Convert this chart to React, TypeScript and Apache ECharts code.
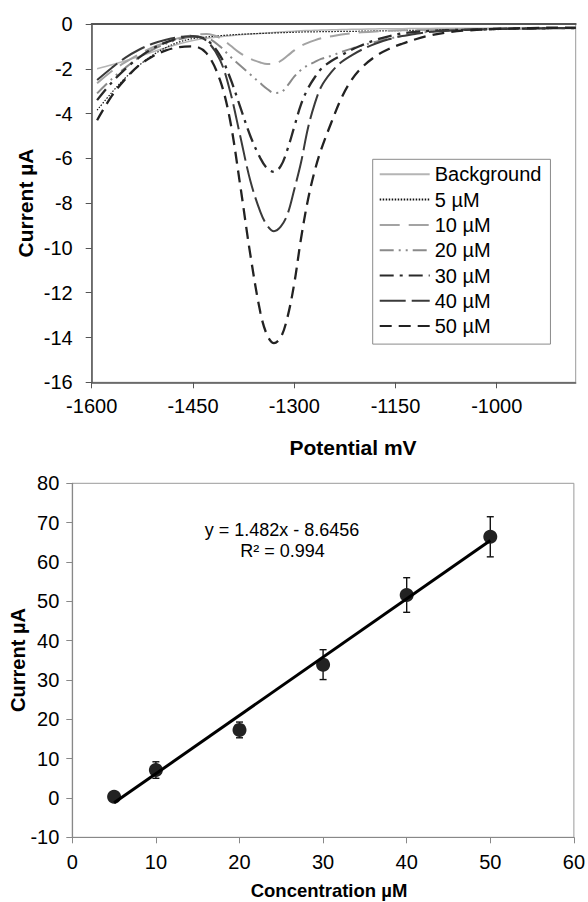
import React, { useEffect, useRef } from "react";
import * as echarts from "echarts";

// ---- Top chart: DPV voltammograms ----
const potentials = [-1592, -1570, -1550, -1530, -1510, -1490, -1470, -1450, -1430, -1410, -1395, -1380, -1365, -1350, -1340, -1330, -1320, -1310, -1300, -1290, -1280, -1270, -1260, -1245, -1230, -1215, -1200, -1180, -1160, -1140, -1120, -1100, -1075, -1050, -1000, -950, -900, -883];

const background = [-2.0, -1.82, -1.64, -1.45, -1.25, -1.06, -0.88, -0.74, -0.64, -0.57, -0.52, -0.48, -0.45, -0.42, -0.4, -0.38, -0.36, -0.34, -0.32, -0.3, -0.29, -0.28, -0.27, -0.26, -0.25, -0.24, -0.23, -0.22, -0.21, -0.21, -0.2, -0.2, -0.19, -0.19, -0.18, -0.17, -0.17, -0.17];
const c5 = [-3.85, -3.05, -2.4, -1.85, -1.4, -1.05, -0.8, -0.65, -0.58, -0.52, -0.49, -0.46, -0.44, -0.42, -0.41, -0.4, -0.39, -0.38, -0.37, -0.36, -0.35, -0.35, -0.34, -0.34, -0.33, -0.33, -0.32, -0.31, -0.3, -0.29, -0.28, -0.27, -0.26, -0.25, -0.23, -0.21, -0.2, -0.2];
const c10 = [-2.65, -2.1, -1.7, -1.35, -1.05, -0.82, -0.62, -0.5, -0.45, -0.62, -0.95, -1.3, -1.55, -1.72, -1.79, -1.78, -1.65, -1.42, -1.18, -0.98, -0.84, -0.73, -0.64, -0.55, -0.47, -0.41, -0.37, -0.33, -0.3, -0.28, -0.27, -0.26, -0.25, -0.24, -0.22, -0.2, -0.19, -0.19];
const c20 = [-3.1, -2.45, -1.95, -1.5, -1.15, -0.88, -0.68, -0.57, -0.62, -1.0, -1.45, -1.85, -2.25, -2.65, -2.9, -3.08, -3.05, -2.75, -2.35, -2.05, -1.85, -1.7, -1.56, -1.42, -1.25, -1.1, -0.97, -0.8, -0.66, -0.53, -0.42, -0.35, -0.3, -0.27, -0.23, -0.2, -0.18, -0.18];
const c30 = [-3.4, -2.6, -2.0, -1.5, -1.1, -0.82, -0.63, -0.55, -0.7, -1.4, -2.4, -3.7, -5.0, -6.0, -6.45, -6.6, -6.35, -5.6, -4.6, -3.6, -2.9, -2.4, -2.0, -1.65, -1.4, -1.15, -0.95, -0.72, -0.55, -0.42, -0.35, -0.31, -0.28, -0.26, -0.22, -0.2, -0.18, -0.18];
const c40 = [-2.5, -1.95, -1.5, -1.15, -0.88, -0.7, -0.58, -0.55, -0.75, -1.6, -3.0, -5.0, -7.0, -8.4, -9.0, -9.25, -9.05, -8.5, -7.4, -6.2, -4.7, -3.6, -2.8, -2.15, -1.7, -1.4, -1.15, -0.88, -0.68, -0.54, -0.44, -0.36, -0.3, -0.26, -0.22, -0.2, -0.18, -0.18];
const c50 = [-4.3, -3.2, -2.45, -1.85, -1.45, -1.18, -1.03, -1.0, -1.3, -2.5, -4.3, -7.2, -10.3, -12.9, -13.9, -14.25, -14.0, -13.1, -11.6, -9.6, -7.9, -6.6, -5.6, -4.4, -3.3, -2.5, -1.95, -1.45, -1.12, -0.88, -0.68, -0.52, -0.38, -0.3, -0.22, -0.18, -0.16, -0.16];

const potentialTicks = [-1600, -1450, -1300, -1150, -1000];

// ---- Bottom chart: calibration ----
const concentrations = [5, 10, 20, 30, 40, 50];
const currents = [0.3, 7.1, 17.3, 33.9, 51.6, 66.4];
const errors = [0.5, 2.1, 2.0, 3.8, 4.4, 5.1];
const trendX = [5, 50];
const trendY = [-1.24, 65.46];

const FONT = "'Liberation Sans', Arial, sans-serif";

export default function App() {
  const ref = useRef<HTMLDivElement>(null);

  useEffect(() => {
    if (!ref.current) return;
    const chart = echarts.init(ref.current, null, { renderer: "svg" });

    const curveDefs = [
      { name: "Background", data: background, color: "#b5b5b5", width: 1.5, type: "solid" as any },
      { name: "5 µM", data: c5, color: "#111", width: 1.2, type: [1.5, 1.5] },
      { name: "10 µM", data: c10, color: "#a3a3a3", width: 2, type: [20, 9] },
      { name: "20 µM", data: c20, color: "#8a8a8a", width: 2, type: [14, 5, 2, 5, 2, 5] },
      { name: "30 µM", data: c30, color: "#2a2a2a", width: 2.3, type: [14, 6, 3, 6] },
      { name: "40 µM", data: c40, color: "#3a3a3a", width: 2, type: [26, 6] },
      { name: "50 µM", data: c50, color: "#222", width: 2.3, type: [12, 7] },
    ];

    const curveSeries = curveDefs.map((d) => ({
      name: d.name,
      type: "line",
      xAxisIndex: 0,
      yAxisIndex: 0,
      data: potentials.map((p, i) => [p, d.data[i]]),
      showSymbol: false,
      symbol: "none",
      smooth: 0.35,
      color: d.color,
      lineStyle: { color: d.color, width: d.width, type: d.type },
      z: 3,
    }));

    const axisLabelStyle = { color: "#000", fontSize: 20, fontFamily: FONT };

    const option: any = {
      animation: false,
      textStyle: { fontFamily: FONT },
      grid: [
        { left: 91.7, top: 24, width: 484, height: 358.3, show: true, borderColor: "#9a9a9a", borderWidth: 1, backgroundColor: "transparent" },
        { left: 72.3, top: 483.3, width: 505.4, height: 354, show: true, borderColor: "#9a9a9a", borderWidth: 1, backgroundColor: "transparent" },
      ],
      xAxis: [
        {
          type: "value", gridIndex: 0, min: -1600, max: -883, position: "bottom",
          axisLine: { show: true, onZero: false, lineStyle: { color: "#555", width: 1.5 } },
          axisTick: { show: true, length: 6, customValues: potentialTicks, lineStyle: { color: "#555" } },
          axisLabel: { ...axisLabelStyle, margin: 14, customValues: potentialTicks, formatter: (v: number) => String(v) },
          splitLine: { show: false },
        },
        {
          type: "value", gridIndex: 0, min: -1600, max: -883, position: "top",
          axisLine: { show: true, onZero: false, lineStyle: { color: "#555", width: 2 } },
          axisTick: { show: false }, axisLabel: { show: false }, splitLine: { show: false },
        },
        {
          type: "value", gridIndex: 1, min: 0, max: 60, interval: 10, position: "bottom",
          axisLine: { show: true, onZero: false, lineStyle: { color: "#888", width: 1.2 } },
          axisTick: { show: true, length: 6, lineStyle: { color: "#888" } },
          axisLabel: { ...axisLabelStyle, margin: 15 },
          splitLine: { show: false },
        },
      ],
      yAxis: [
        {
          type: "value", gridIndex: 0, min: -16, max: 0, interval: 2,
          axisLine: { show: true, onZero: false, lineStyle: { color: "#555", width: 1.5 } },
          axisTick: { show: true, length: 6, lineStyle: { color: "#555" } },
          axisLabel: { ...axisLabelStyle, margin: 19 },
          splitLine: { show: false },
        },
        {
          type: "value", gridIndex: 1, min: -10, max: 80, interval: 10,
          axisLine: { show: true, onZero: false, lineStyle: { color: "#888", width: 1.2 } },
          axisTick: { show: true, length: 6, lineStyle: { color: "#888" } },
          axisLabel: { ...axisLabelStyle, margin: 13 },
          splitLine: { show: false },
        },
      ],
      legend: {
        data: curveDefs.map((d) => d.name),
        orient: "vertical",
        left: 372.7,
        top: 159.3,
        padding: [5, 9, 8, 6],
        itemGap: 5.3,
        itemWidth: 50,
        itemHeight: 14,
        selectedMode: false,
        backgroundColor: "#fff",
        borderColor: "#8a8a8a",
        borderWidth: 1,
        itemStyle: { opacity: 0 },
        textStyle: { color: "#000", fontSize: 20, lineHeight: 20, fontFamily: FONT },
      },
      graphic: [
        { type: "text", x: 353, y: 447, style: { text: "Potential mV", font: `bold 21px ${FONT}`, fill: "#000", textAlign: "center", textVerticalAlign: "middle" } },
        { type: "text", x: 25, y: 203, rotation: Math.PI / 2, style: { text: "Current µA", font: `bold 21px ${FONT}`, fill: "#000", textAlign: "center", textVerticalAlign: "middle" } },
        { type: "text", x: 18, y: 660, rotation: Math.PI / 2, style: { text: "Current µA", font: `bold 20px ${FONT}`, fill: "#000", textAlign: "center", textVerticalAlign: "middle" } },
        { type: "text", x: 329, y: 890, style: { text: "Concentration µM", font: `bold 18.5px ${FONT}`, fill: "#000", textAlign: "center", textVerticalAlign: "middle" } },
        { type: "text", x: 282, y: 530, style: { text: "y = 1.482x - 8.6456", font: `18px ${FONT}`, fill: "#000", textAlign: "center", textVerticalAlign: "middle" } },
        { type: "text", x: 282.5, y: 551, style: { text: "R² = 0.994", font: `18px ${FONT}`, fill: "#000", textAlign: "center", textVerticalAlign: "middle" } },
      ],
      series: [
        ...curveSeries,
        {
          name: "errors",
          type: "custom",
          xAxisIndex: 2,
          yAxisIndex: 1,
          data: concentrations.map((c, i) => [c, currents[i] - errors[i], currents[i] + errors[i]]),
          encode: { x: 0, y: [1, 2] },
          renderItem: (params: any, api: any) => {
            const x = api.value(0);
            const top = api.coord([x, api.value(2)]);
            const bot = api.coord([x, api.value(1)]);
            const w = 3.5;
            const st = { stroke: "#111", lineWidth: 1.4 };
            return {
              type: "group",
              children: [
                { type: "line", shape: { x1: top[0], y1: top[1], x2: bot[0], y2: bot[1] }, style: st },
                { type: "line", shape: { x1: top[0] - w, y1: top[1], x2: top[0] + w, y2: top[1] }, style: st },
                { type: "line", shape: { x1: bot[0] - w, y1: bot[1], x2: bot[0] + w, y2: bot[1] }, style: st },
              ],
            };
          },
          z: 2,
        },
        {
          name: "measured",
          type: "scatter",
          xAxisIndex: 2,
          yAxisIndex: 1,
          data: concentrations.map((c, i) => [c, currents[i]]),
          symbol: "circle",
          symbolSize: 14,
          itemStyle: { color: "#222", opacity: 1 },
          z: 3,
        },
        {
          name: "trend",
          type: "line",
          xAxisIndex: 2,
          yAxisIndex: 1,
          data: trendX.map((x, i) => [x, trendY[i]]),
          showSymbol: false,
          symbol: "none",
          lineStyle: { color: "#000", width: 3 },
          z: 4,
        },
      ],
    };

    chart.setOption(option);
    return () => chart.dispose();
  }, []);

  return (
    <div
      ref={ref}
      style={{ position: "absolute", left: 0, top: 0, width: 588, height: 902, background: "#fff" }}
    />
  );
}
